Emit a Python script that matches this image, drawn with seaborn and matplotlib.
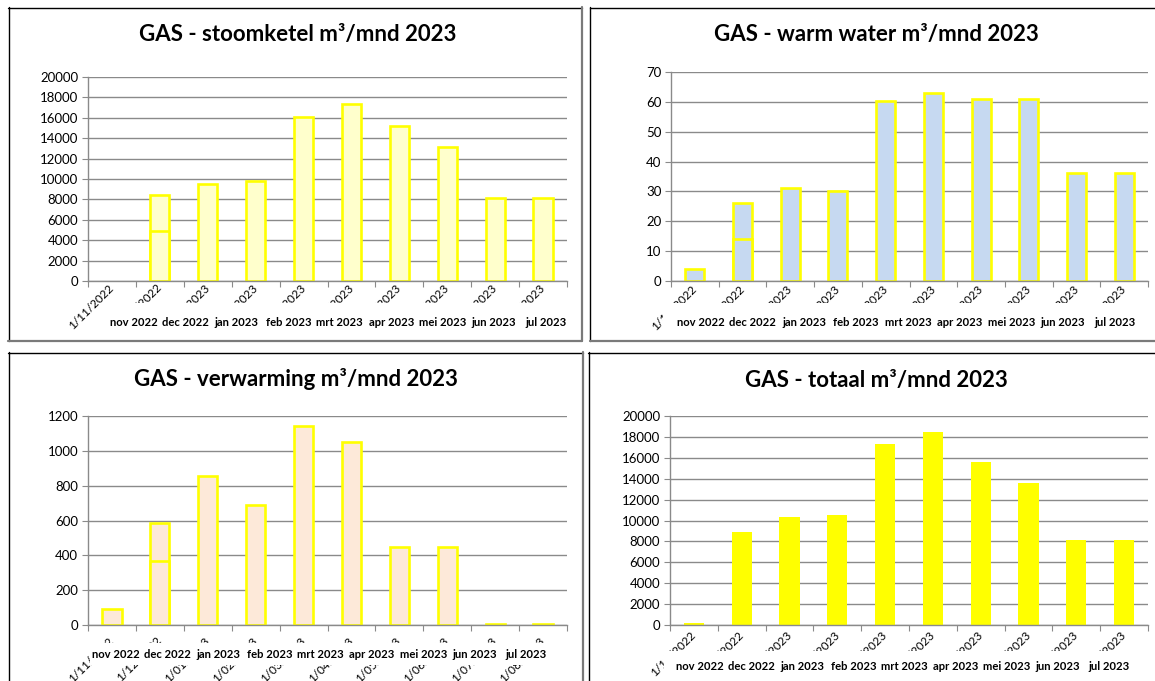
import numpy as np
import pandas as pd
import matplotlib
matplotlib.use("Agg")
import matplotlib.pyplot as plt
import matplotlib.transforms as mtransforms
from matplotlib.lines import Line2D
from matplotlib.patches import Rectangle
import seaborn as sns

# ---------------- data ----------------
datums = ["1/11/2022", "1/12/2022", "1/01/2023", "1/02/2023", "1/03/2023",
          "1/04/2023", "1/05/2023", "1/06/2023", "1/07/2023", "1/08/2023"]
maanden = ["nov 2022", "dec 2022", "jan 2023", "feb 2023", "mrt 2023",
           "apr 2023", "mei 2023", "jun 2023", "jul 2023"]
nan = np.nan
stoomketel = [nan, 8450, 9500, 9850, 16100, 17400, 15200, 13150, 8100, 8100]
stoomketel_deel = [nan, 4900, nan, nan, nan, nan, nan, nan, nan, nan]
warm_water = [4, 26, 31.3, 30.1, 60.2, 63.1, 61.0, 60.8, 36.3, 36.3]
warm_water_deel = [nan, 14.2, nan, nan, nan, nan, nan, nan, nan, nan]
verwarming = [92, 583, 854, 690, 1141, 1051, 449, 449, 8, 8]
verwarming_deel = [nan, 365, nan, nan, nan, nan, nan, nan, nan, nan]
totaal = [150, 8880, 10290, 10570, 17320, 18500, 15640, 13630, 8180, 8180]

titels = ["GAS - stoomketel m³/mnd 2023", "GAS - warm water m³/mnd 2023",
          "GAS - verwarming m³/mnd 2023", "GAS - totaal m³/mnd 2023"]

# ---------------- style ----------------
W, H = 1155, 681
sns.set_theme(style="white")
plt.rcParams['font.family'] = ['Lato', 'DejaVu Sans']
GRID = "#8a8a8a"
YEL = "#ffff00"

fig = plt.figure(figsize=(W / 100, H / 100), dpi=100)
fig.patch.set_facecolor("white")


def fx(x):
    return x / W


def fy(y):
    return 1 - y / H


def add_axes(x0, x1, ytop, ybot):
    return fig.add_axes([fx(x0), fy(ybot), (x1 - x0) / W, (ybot - ytop) / H])


panels = [
    dict(title=titels[0], vals=stoomketel, deel=stoomketel_deel, fill="#ffffcc", edge=YEL, lw=1.9,
         box=(88, 567, 77, 281), ymax=20000, step=2000, tpos=(298, 34),
         mstart=0.46, mstep=1.074, my=322, mask=(108, 303, 575, 339), pad=3.5),
    dict(title=titels[1], vals=warm_water, deel=warm_water_deel, fill="#c6d9f1", edge=YEL, lw=1.9,
         box=(671, 1148, 72, 281), ymax=70, step=10, tpos=(876, 34),
         mstart=0.13, mstep=1.084, my=322, mask=(663, 303, 1155, 339), pad=4.5),
    dict(title=titels[2], vals=verwarming, deel=verwarming_deel, fill="#fde9d9", edge=YEL, lw=1.9,
         box=(88, 567, 416, 625), ymax=1200, step=200, tpos=(296, 379),
         mstart=0.08, mstep=1.07, my=655, mask=(90, 643, 562, 665), pad=10),
    dict(title=titels[3], vals=totaal, deel=None, fill=YEL, edge=YEL, lw=0,
         box=(670, 1148, 416, 625), ymax=20000, step=2000, tpos=(876, 380),
         mstart=0.13, mstep=1.07, my=667, mask=(664, 651, 1155, 681), pad=6),
]

for p in panels:
    x0, x1, yt, yb = p["box"]
    ax = add_axes(x0, x1, yt, yb)
    df = pd.DataFrame({"datum": datums, "waarde": p["vals"]})
    sns.barplot(data=df, x="datum", y="waarde", order=datums, color=p["fill"],
                saturation=1, width=0.4 if p["lw"] > 0 else 0.42,
                edgecolor=p["edge"], linewidth=p["lw"], errorbar=None, ax=ax)
    if p["deel"] is not None:
        df2 = pd.DataFrame({"datum": datums, "waarde": p["deel"]})
        sns.barplot(data=df2, x="datum", y="waarde", order=datums, color=p["fill"],
                    saturation=1, width=0.4, edgecolor=p["edge"], linewidth=p["lw"],
                    errorbar=None, ax=ax)
    ax.set_xlim(-0.5, len(datums) - 0.5)
    ax.set_ylim(0, p["ymax"])
    ax.set_yticks(np.arange(0, p["ymax"] + 1, p["step"]))
    ax.yaxis.grid(True, color=GRID, linewidth=1.0)
    ax.set_axisbelow(True)
    ax.set_xlabel("")
    ax.set_ylabel("")
    for s in ["top", "right"]:
        ax.spines[s].set_visible(False)
    for s in ["left", "bottom"]:
        ax.spines[s].set_color(GRID)
        ax.spines[s].set_linewidth(1.0)
    ax.set_facecolor("white")
    ax.tick_params(axis="y", which="major", left=True, length=4, width=0.8, color=GRID,
                   labelsize=9.5, labelcolor="black", pad=3)
    ax.set_xticks(range(len(datums)))
    ax.set_xticklabels(datums, rotation=45, ha="right", va="center",
                       rotation_mode="anchor", fontsize=8.5)
    ax.tick_params(axis="x", which="major", length=0, pad=p["pad"], labelcolor="black")
    ax.set_xticks(np.arange(-0.5, len(datums)), minor=True)
    ax.tick_params(axis="x", which="minor", bottom=True, length=4, width=0.8, color=GRID)

    # white label box of month names covering the date labels
    mx0, my0, mx1, my1 = p["mask"]
    fig.add_artist(Rectangle((fx(mx0), fy(my1)), (mx1 - mx0) / W, (my1 - my0) / H,
                             transform=fig.transFigure, facecolor="white",
                             edgecolor="none", zorder=2))
    tr = mtransforms.blended_transform_factory(ax.transData, fig.transFigure)
    for i, m in enumerate(maanden):
        fig.text(p["mstart"] + i * p["mstep"], fy(p["my"]), m, transform=tr,
                 ha="center", va="center", fontsize=8.1, fontweight="bold",
                 color="black", zorder=3)

    fig.text(fx(p["tpos"][0]), fy(p["tpos"][1]), p["title"], ha="center", va="center",
             fontsize=16, fontweight="bold", color="black", zorder=3)

# ---------------- panel borders ----------------
def hline(y, xa, xb, color, lw):
    fig.add_artist(Line2D([fx(xa), fx(xb)], [fy(y), fy(y)], transform=fig.transFigure,
                          color=color, linewidth=lw, zorder=4))


def vline(x, ya, yb, color, lw):
    fig.add_artist(Line2D([fx(x), fx(x)], [fy(ya), fy(yb)], transform=fig.transFigure,
                          color=color, linewidth=lw, zorder=4))


BLK, GRY = "black", "#7a7a7a"
# top-left panel
hline(7.5, 8, 582, BLK, 1.0)
vline(8.5, 7, 341, BLK, 1.0)
vline(582, 7, 341, GRY, 1.6)
hline(341, 8, 582, GRY, 1.6)
# top-right panel
hline(7.5, 590, 1160, BLK, 1.0)
vline(590, 7, 341, BLK, 1.0)
hline(341, 590, 1160, GRY, 1.6)
# bottom-left panel
hline(352.5, 8, 583, BLK, 1.0)
vline(8.5, 352, 690, BLK, 1.0)
vline(583, 352, 690, GRY, 1.6)
# bottom-right panel
hline(352.5, 588, 1160, BLK, 1.0)
vline(588.5, 352, 690, BLK, 1.0)

fig.savefig("out.png", dpi=100, facecolor="white")
